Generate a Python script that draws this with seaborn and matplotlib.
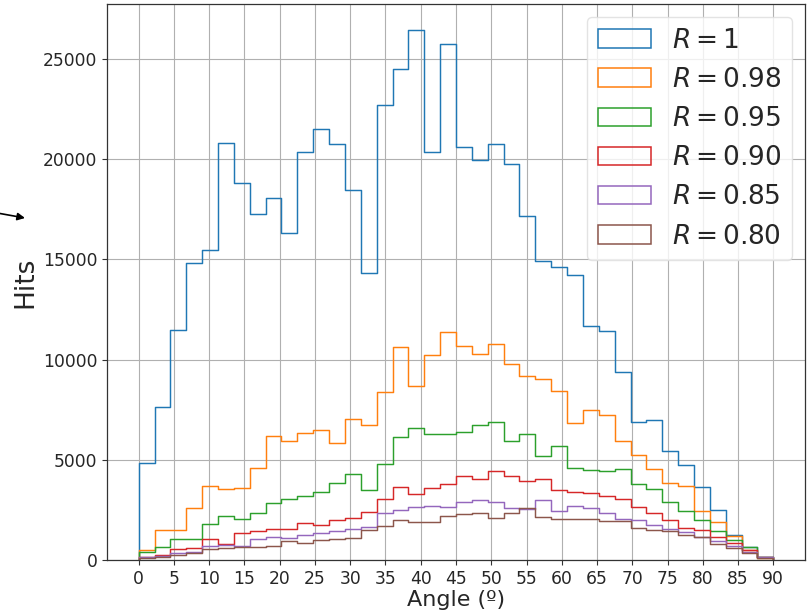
import numpy as np
import pandas as pd
import matplotlib
matplotlib.use("Agg")
import matplotlib.pyplot as plt
from matplotlib.patches import Patch, FancyArrowPatch
import seaborn as sns

# ---- data ----
bin_edges = [i * 2.25 for i in range(41)]
labels = ["$R = 1$", "$R = 0.98$", "$R = 0.95$", "$R = 0.90$", "$R = 0.85$", "$R = 0.80$"]

r100 = [4850, 7630, 11450, 14830, 15470, 20780, 18800, 17280, 18050, 16320,
        20330, 21480, 20730, 18470, 14300, 22720, 24500, 26420, 20330, 25750,
        20580, 19950, 20750, 19750, 17150, 14900, 14600, 14230, 11670, 11420,
        9390, 6880, 7000, 5450, 4720, 3640, 2490, 1270, 650, 140]
r098 = [500, 1520, 1520, 2570, 3680, 3530, 3600, 4600, 6200, 5950,
        6330, 6500, 5830, 7030, 6730, 8380, 10630, 8700, 10250, 11370,
        10700, 10300, 10800, 9780, 9170, 9030, 8420, 6820, 7500, 7220,
        5920, 5250, 4550, 3840, 3690, 2420, 1870, 1190, 520, 80]
r095 = [410, 660, 1060, 1060, 1790, 2190, 2050, 2320, 2820, 3060,
        3180, 3400, 3830, 4290, 3490, 4780, 6120, 6570, 6280, 6280,
        6400, 6730, 6900, 5930, 6280, 5190, 5710, 4570, 4490, 4420,
        4560, 3780, 3530, 2910, 2440, 1990, 1460, 1000, 630, 170]
r090 = [166, 250, 530, 580, 1060, 800, 1360, 1460, 1570, 1530,
        1860, 1740, 1990, 2070, 2370, 3060, 3640, 3310, 3600, 3810,
        4170, 4060, 4440, 4170, 3930, 4030, 3480, 3400, 3340, 3180,
        3060, 2650, 2350, 1990, 1620, 1490, 1160, 860, 500, 130]
r085 = [130, 200, 330, 410, 700, 760, 700, 1030, 1160, 1120,
        1240, 1330, 1440, 1540, 1660, 2320, 2490, 2650, 2700, 2650,
        2900, 3010, 2870, 2600, 2530, 3010, 2450, 2680, 2570, 2350,
        2020, 1990, 1740, 1570, 1410, 1160, 960, 700, 410, 130]
r080 = [116, 166, 250, 330, 530, 580, 630, 630, 700, 930,
        830, 990, 1040, 1110, 1490, 1690, 1990, 1900, 1900, 2190,
        2270, 2320, 2070, 2350, 2570, 2120, 2040, 2040, 2020, 1950,
        1950, 1620, 1520, 1460, 1240, 1130, 800, 580, 330, 116]
series = [r100, r098, r095, r090, r085, r080]
xticks = list(range(0, 91, 5))
yticks = [0, 5000, 10000, 15000, 20000, 25000]

colors = ["#1f77b4", "#ff7f0e", "#2ca02c", "#d62728", "#9467bd", "#8c564b"]

edges = np.array(bin_edges)
centers = (edges[:-1] + edges[1:]) / 2
df = pd.concat([pd.DataFrame({"angle": centers, "hits": np.array(vals, dtype=float), "R": lab})
                for lab, vals in zip(labels, series)], ignore_index=True)

sns.set_style("ticks")
plt.rcParams["font.family"] = ["DejaVu Sans"]

fig = plt.figure(figsize=(8.08, 6.11), dpi=100)
ax = fig.add_axes([0.1324, 0.0835, 0.8639, 0.910])

for lab, col in zip(labels, colors):
    sub = df[df["R"] == lab]
    sns.histplot(data=sub, x="angle", weights="hits",
                 bins=bin_edges, element="step", fill=False, color=col,
                 linewidth=1.05, ax=ax)

# close the steps down to the baseline at both ends (like histtype='step')
for line in ax.lines:
    xd = np.asarray(line.get_xdata(), dtype=float)
    yd = np.asarray(line.get_ydata(), dtype=float)
    line.set_xdata(np.concatenate([[xd[0]], xd, [xd[-1]]]))
    line.set_ydata(np.concatenate([[0], yd, [0]]))

ax.set_xlim(-4.5, 94.5)
ax.set_ylim(0, 27740)
ax.set_xticks(xticks)
ax.set_yticks(yticks)
ax.tick_params(labelsize=12.3, length=3.5, color="#333333", labelcolor="#262626")
ax.grid(True, color="#b0b0b0", linewidth=0.8)
ax.set_axisbelow(True)
for s in ax.spines.values():
    s.set_visible(True)
    s.set_color("#333333")
    s.set_linewidth(0.9)

ax.set_xlabel("Angle (º)", fontsize=16, labelpad=2)
ax.set_ylabel("Hits", fontsize=19, labelpad=3.5)

handles = [Patch(facecolor="none", edgecolor=c, linewidth=1.1) for c in colors]
leg = ax.legend(handles, labels, loc="upper right", fontsize=19,
                frameon=True, framealpha=0.8, borderaxespad=0.5)
leg.get_frame().set_edgecolor("#dddddd")

# small arrow at the left edge of the figure (figure pixel coordinates)
H = 611
arrow = FancyArrowPatch((0, H - 213.5), (25, H - 218), transform=None,
                        arrowstyle="-|>", mutation_scale=11, color="black",
                        lw=1.2, shrinkA=0, shrinkB=0)
fig.patches.append(arrow)
arrow.set_figure(fig)

fig.savefig("out.png", dpi=100)
